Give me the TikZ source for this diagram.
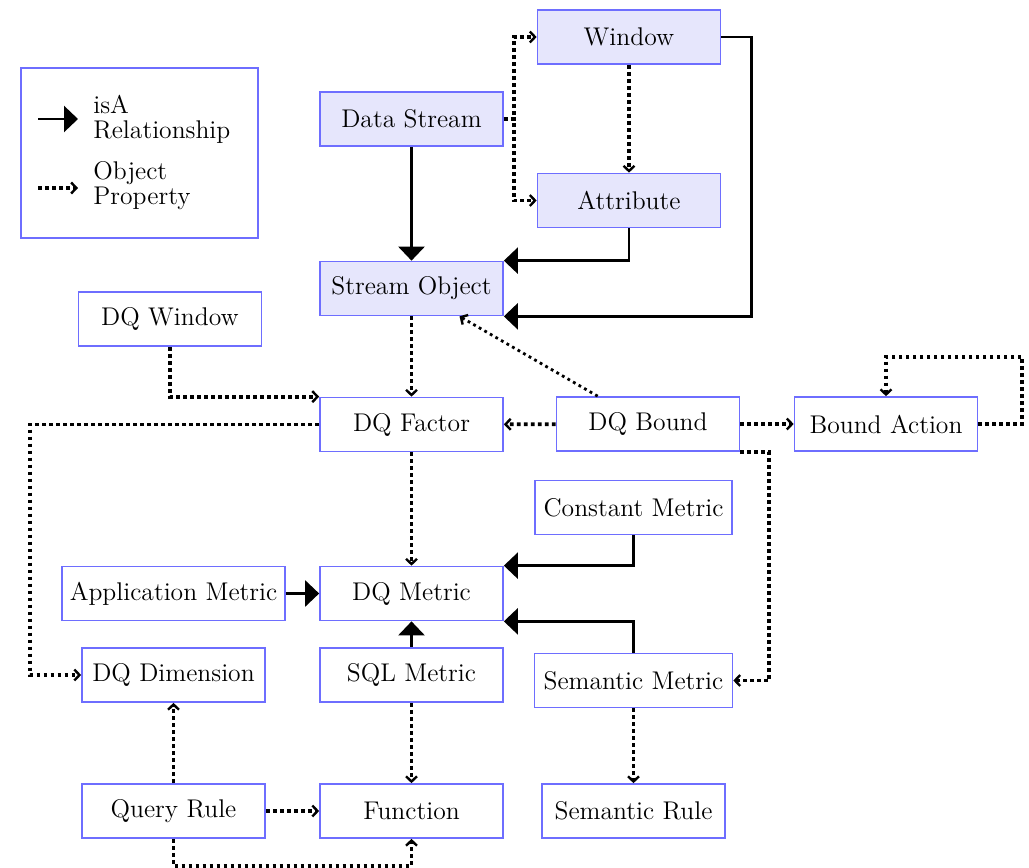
\documentclass[tikz,border=0pt]{standalone}
\usetikzlibrary{arrows.meta}
\definecolor{boxblue}{RGB}{110,110,255}
\definecolor{streamfill}{RGB}{230,230,252}
\begin{document}
\begin{tikzpicture}[x=0.5pt,y=-0.5pt,
  font=\fontsize{12.8}{13}\selectfont,
  box/.style={draw=boxblue,line width=0.85pt,inner sep=0pt,
    minimum width=91.5pt,minimum height=27pt},
  sbox/.style={box,fill=streamfill},
  isa/.style={line width=1.3pt,-{Triangle[length=7pt,width=13pt]}},
  prop/.style={line width=1.9pt,dash pattern=on 1.9pt off 1.6pt,
    -{Straight Barb[length=2.6pt,width=5.5pt,line width=1.2pt]}},
  thinprop/.style={prop,line width=1.4pt,dash pattern=on 1.4pt off 1.8pt}]
\useasboundingbox (0,0) rectangle (1029,868);

% legend
\node[box,minimum width=118.5pt,minimum height=85pt] (legend) at (139.5,153) {};
\coordinate (la1) at (38,119);
\coordinate (lb1) at (78,119);
\coordinate (la2) at (38,188);
\coordinate (lb2) at (78,188);
\node[anchor=west,align=left,inner sep=0pt,font=\fontsize{12.8}{12.5}\selectfont] (lt1) at (93,119) {isA\\Relationship};
\node[anchor=west,align=left,inner sep=0pt,font=\fontsize{12.8}{12.5}\selectfont] (lt2) at (93,186) {Object\\Property};
\draw[isa] (la1) -- (lb1);
\draw[prop] (la2) -- (lb2);

% stream classes
\node[sbox] (win) at (629,37) {Window};
\node[sbox] (ds) at (411.5,119) {Data Stream};
\node[sbox] (attr) at (629,200.5) {Attribute};
\node[sbox] (so) at (411.5,288.5) {Stream Object};

% data quality classes
\node[box] (dqw) at (170,319) {DQ Window};
\node[box] (dqf) at (411.5,424.5) {DQ Factor};
\node[box] (dqb) at (648,424) {DQ Bound};
\node[box] (ba) at (886,424) {Bound Action};
\node[box,minimum width=98.5pt] (cm) at (633.5,507.5) {Constant Metric};
\node[box,minimum width=111.5pt] (am) at (173.5,593.5) {Application Metric};
\node[box] (dqm) at (411.5,593.5) {DQ Metric};
\node[box] (dqd) at (173.5,675) {DQ Dimension};
\node[box] (sql) at (411.5,675) {SQL Metric};
\node[box,minimum width=99pt] (semm) at (633.5,680.5) {Semantic Metric};
\node[box] (qr) at (173.5,811) {Query Rule};
\node[box] (fn) at (411.5,811) {Function};
\node[box] (semr) at (633.5,811) {Semantic Rule};

% isA relationships
\draw[isa] (ds) -- (so);
\draw[isa] (attr.south) |- (so.north east);
\draw[isa] (win.east) -- ++(30,0) |- (so.south east);
\draw[isa] (cm.south) |- (dqm.north east);
\draw[isa] (semm.north) |- (dqm.south east);
\draw[isa] (am) -- (dqm);
\draw[isa] (sql) -- (dqm);

% object properties
\draw[prop] (ds.east) -- ++(10,0) |- (win.west);
\draw[prop] (ds.east) -- ++(10,0) |- (attr.west);
\draw[prop] (win) -- (attr);
\draw[prop] (so) -- (dqf);
\draw[thinprop] ([xshift=21pt]dqb.north west) -- ([xshift=24pt]so.south);
\draw[prop] (dqw.south) |- (dqf.north west);
\draw[prop] (dqb) -- (dqf);
\draw[prop] (dqb) -- (ba);
\draw[prop] (ba.east) -- ++(44,0) -- ++(0,-67) -| (ba.north);
\draw[prop] (dqb.south east) -- ++(29,0) |- (semm.east);
\draw[prop] (dqf.west) -- ++(-289,0) |- (dqd.west);
\draw[prop] (dqf) -- (dqm);
\draw[prop] (sql) -- (fn);
\draw[prop] (semm) -- (semr);
\draw[prop] (qr) -- (dqd);
\draw[prop] (qr) -- (fn);
\draw[prop] (qr.south) -- ++(0,27) -| (fn.south);
\end{tikzpicture}
\end{document}
